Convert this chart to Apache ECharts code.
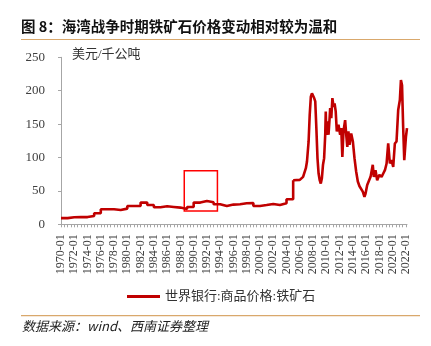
<!DOCTYPE html>
<html><head><meta charset="utf-8">
<script src="https://cdn.jsdelivr.net/npm/echarts@6/dist/echarts.min.js"></script>
<style>html,body{margin:0;padding:0;background:#fff}#c{width:431px;height:346px}</style>
</head><body><div id="c"></div>
<script>
const titleText = '图 8：海湾战争时期铁矿石价格变动相对较为温和';
const unitLabel = '美元/千公吨';
const sourceText = '数据来源：wind、西南证券整理';
const seriesName = '世界银行:商品价格:铁矿石';

const xTickLabels = ['1970-01','1972-01','1974-01','1976-01','1978-01','1980-01','1982-01','1984-01','1986-01','1988-01','1990-01','1992-01','1994-01','1996-01','1998-01','2000-01','2002-01','2004-01','2006-01','2008-01','2010-01','2012-01','2014-01','2016-01','2018-01','2020-01','2022-01'];
const xStart = '1970-01';
const xEnd = '2022-03';
const yMin = 0, yMax = 250, yStep = 50;

// annual (contract) prices, held for the year
const annualDates = ['1970-01','1971-01','1972-01','1973-01','1974-01','1975-01','1976-01','1977-01','1978-01','1979-01','1980-01','1981-01','1982-01','1983-01','1984-01','1985-01','1986-01','1987-01','1988-01','1989-01','1990-01','1991-01','1992-01','1993-01','1994-01','1995-01','1996-01','1997-01','1998-01','1999-01','2000-01','2001-01','2002-01','2003-01','2004-01','2005-01'];
const annualValues = [9.3,10.5,10.8,10.8,12.5,16.5,22.5,22.5,21.5,23.5,27.5,27.5,32.5,29,25.5,27,26,25,23,26,32.5,34.8,33,30,27.5,29.5,30,31.5,32,27.5,28.8,30.5,29,31.5,37.5,66];

// monthly spot prices
const monthlyDates = ['2005-01','2006-01','2006-07','2006-12','2007-02','2007-05','2007-07','2007-09','2007-11','2008-02','2008-03','2008-05','2008-07','2008-09','2008-11','2009-01','2009-03','2009-05','2009-07','2009-09','2009-11','2009-12','2010-01','2010-03','2010-05','2010-07','2010-08','2010-10','2010-12','2011-02','2011-04','2011-06','2011-08','2011-11','2012-02','2012-04','2012-06','2012-08','2012-11','2013-01','2013-03','2013-05','2013-07','2013-10','2014-01','2014-04','2014-07','2014-10','2015-01','2015-04','2015-07','2015-10','2015-12','2016-03','2016-06','2016-09','2017-01','2017-03','2017-06','2017-09','2018-01','2018-05','2018-08','2018-11','2019-02','2019-05','2019-08','2019-11','2020-02','2020-05','2020-08','2020-11','2021-02','2021-04','2021-06','2021-08','2021-10','2022-01','2022-03'];
const monthlyValues = [66,66.5,71,84,94,124,164,191,196,196,189,184,144,99,76,66,61,69,89,99,134,169,134,154,134,159,174,159,189,176,181,169,139,149,134,144,101,139,156,134,116,139,119,136,124,99,79,64,57,56,49,41,46,59,61,71,89,71,81,66,74,71,76,81,91,121,91,96,86,121,124,171,186,216,208,146,96,131,144];

// highlighted period (Gulf War)
const boxStart = '1988-08', boxEnd = '1993-08', boxLow = 20, boxHigh = 80;

function t(s){ const p = s.split('-').map(Number); return new Date(p[0], p[1]-1, 1).getTime(); }
function fmt(v){ const d = new Date(v); return d.getFullYear() + '-' + String(d.getMonth()+1).padStart(2,'0'); }

const halfYearTicks = [];
for (let y = 1970; y <= 2022; y++) {
  halfYearTicks.push(t(y + '-01'));
  if (y < 2022) halfYearTicks.push(t(y + '-07'));
}

const lineColor = '#C00000';
const serif = '"Liberation Serif","Noto Sans CJK SC",serif';

const chart = echarts.init(document.getElementById('c'), null, {renderer: 'canvas'});
chart.setOption({
  animation: false,
  backgroundColor: '#fff',
  title: {
    text: titleText, left: 21, top: 19, padding: 0,
    textStyle: {fontSize: 14.5, fontWeight: 'bold', color: '#111', fontFamily: '"Noto Sans CJK SC",sans-serif'}
  },
  grid: {left: 61, right: 24, top: 57.3, bottom: 121.7, containLabel: false, outerBoundsMode: 'none'},
  legend: {
    data: [seriesName], left: 127, top: 290, padding: 0, icon: 'rect', itemWidth: 33, itemHeight: 3, itemGap: 5,
    textStyle: {fontSize: 13, color: '#333', fontFamily: serif}
  },
  xAxis: {
    type: 'value', min: t(xStart), max: t(xEnd), scale: true,
    axisLine: {lineStyle: {color: '#A6A6A6', width: 1}},
    axisTick: {show: true, length: 3, customValues: halfYearTicks, lineStyle: {color: '#A6A6A6'}},
    axisLabel: {
      customValues: xTickLabels.map(t), formatter: fmt, rotate: 90, margin: 10,
      fontSize: 12, color: '#404040', fontFamily: serif
    },
    splitLine: {show: false}
  },
  yAxis: {
    type: 'value', min: yMin, max: yMax, interval: yStep,
    axisLine: {show: true, lineStyle: {color: '#A6A6A6', width: 1}},
    axisTick: {show: true, length: 3, lineStyle: {color: '#A6A6A6'}},
    axisLabel: {fontSize: 13, color: '#404040', margin: 16, fontFamily: serif},
    splitLine: {show: false}
  },
  series: [
    {
      name: seriesName, type: 'line', step: 'end', symbol: 'none', showSymbol: false,
      itemStyle: {color: lineColor}, lineStyle: {color: lineColor, width: 2.6},
      data: annualDates.map((d, i) => [t(d), annualValues[i]]),
      markArea: {
        silent: true,
        itemStyle: {color: 'rgba(0,0,0,0)', borderColor: '#FF0000', borderWidth: 1.5},
        data: [[{coord: [t(boxStart), boxHigh]}, {coord: [t(boxEnd), boxLow]}]]
      }
    },
    {
      name: seriesName, type: 'line', symbol: 'none', showSymbol: false,
      itemStyle: {color: lineColor}, lineStyle: {color: lineColor, width: 2.6},
      data: monthlyDates.map((d, i) => [t(d), monthlyValues[i]])
    }
  ],
  graphic: [
    {type: 'line', shape: {x1: 21, y1: 39.5, x2: 420, y2: 39.5}, style: {stroke: '#D9A86C', lineWidth: 1.2}},
    {type: 'line', shape: {x1: 21, y1: 315.7, x2: 420, y2: 315.7}, style: {stroke: '#D9A86C', lineWidth: 1.2}},
    {type: 'text', left: 72, top: 48, style: {text: unitLabel, fill: '#333', font: '13px ' + serif}},
    {type: 'text', left: 22, top: 320, style: {text: sourceText, fill: '#222', font: 'italic 13px "Noto Sans CJK SC",sans-serif'}}
  ]
});
</script></body></html>
